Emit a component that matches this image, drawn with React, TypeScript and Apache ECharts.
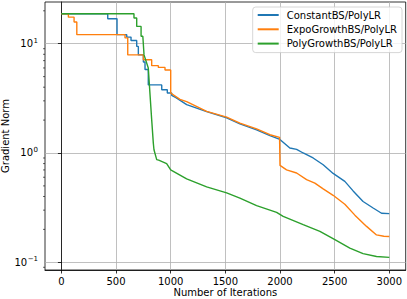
import React, { useEffect, useRef } from "react";
import * as echarts from "echarts";

const seriesNames = ["ConstantBS/PolyLR", "ExpoGrowthBS/PolyLR", "PolyGrowthBS/PolyLR"];
const seriesColors = ["#1f77b4", "#ff7f0e", "#2ca02c"];

const constantIter = [0, 424, 424, 509, 509, 598, 598, 637, 637, 689, 689, 704, 704, 750, 750, 765, 765, 795, 795, 918, 918, 969, 969, 1009, 1009, 1048, 1146, 1329, 1512, 1633, 1786, 1908, 1999, 2090, 2152, 2212, 2303, 2395, 2486, 2593, 2669, 2760, 2852, 2929, 3000];
const constantNorm = [18.8, 18.8, 16.9, 16.9, 12.1, 12.1, 11.5, 11.5, 10.7, 10.7, 9.45, 9.45, 7.9, 7.9, 6.8, 6.8, 5.8, 5.8, 4.2, 4.2, 3.79, 3.79, 3.54, 3.54, 3.37, 3.21, 2.77, 2.39, 2.1, 1.85, 1.63, 1.44, 1.33, 1.11, 1.08, 1.0, 0.9, 0.78, 0.65, 0.55, 0.45, 0.36, 0.314, 0.281, 0.279];

const expoIter = [0, 64, 64, 116, 116, 141, 141, 582, 582, 607, 607, 750, 750, 826, 826, 887, 887, 948, 948, 1000, 1000, 1085, 1146, 1329, 1512, 1633, 1786, 1908, 1996, 2000, 2060, 2152, 2243, 2319, 2395, 2486, 2593, 2685, 2792, 2883, 2950, 3000];
const expoNorm = [18.8, 18.8, 17.5, 17.5, 15.8, 15.8, 12.1, 12.1, 11.3, 11.3, 7.9, 7.9, 7.14, 7.14, 6.3, 6.3, 6.07, 6.07, 5.75, 5.75, 3.54, 3.1, 2.95, 2.4, 2.13, 1.88, 1.66, 1.47, 1.39, 0.77, 0.7, 0.656, 0.57, 0.53, 0.47, 0.41, 0.34, 0.27, 0.213, 0.178, 0.173, 0.172];

const polyIter = [0, 664, 664, 689, 689, 729, 729, 745, 756, 795, 805, 826, 841, 847, 872, 890, 963, 1000, 1024, 1146, 1329, 1512, 1633, 1786, 1969, 2029, 2212, 2365, 2502, 2639, 2760, 2883, 3000];
const polyNorm = [18.8, 18.8, 17.2, 17.2, 14.4, 14.4, 11.7, 11.7, 7.9, 6.0, 4.2, 2.02, 1.23, 1.07, 0.87, 0.86, 0.8, 0.7, 0.68, 0.58, 0.49, 0.431, 0.387, 0.33, 0.286, 0.263, 0.221, 0.192, 0.161, 0.135, 0.12, 0.113, 0.111];

const xTicks = [0, 500, 1000, 1500, 2000, 2500, 3000];
const yTicks = [0.1, 1, 10];
const yTickExponents = ["−1", "0", "1"];
const yMinorTicks = [0.09, 0.2, 0.3, 0.4, 0.5, 0.6, 0.7, 0.8, 0.9, 2, 3, 4, 5, 6, 7, 8, 9, 20];

const X_MIN = -150;
const X_MAX = 3150;
const Y_MIN = 0.085;
const Y_MAX = 24.08;

const FONT = "DejaVu Sans";

function pairs(xs: number[], ys: number[]) {
  return xs.map((x, i) => [x, ys[i]]);
}

export default function App() {
  const ref = useRef<HTMLDivElement>(null);
  useEffect(() => {
    if (!ref.current) return;
    const chart = echarts.init(ref.current, undefined, { renderer: "svg" });
    const lineData = [pairs(constantIter, constantNorm), pairs(expoIter, expoNorm), pairs(polyIter, polyNorm)];
    chart.setOption({
      animation: false,
      textStyle: { fontFamily: FONT },
      grid: {
        left: 45,
        right: 1.3,
        top: 2,
        bottom: 29,
        containLabel: false,
        outerBoundsMode: "none",
        show: true,
        borderColor: "#000",
        borderWidth: 0.8,
        backgroundColor: "transparent",
      },
      legend: {
        data: seriesNames,
        orient: "vertical",
        left: 252.7,
        top: 7,
        padding: [3, 5, 4, 4],
        itemGap: 4.3,
        itemWidth: 21,
        itemHeight: 10,
        itemStyle: { opacity: 0 },
        backgroundColor: "rgba(255,255,255,0.8)",
        borderColor: "#cccccc",
        borderWidth: 0.8,
        borderRadius: 3,
        textStyle: { fontFamily: FONT, fontSize: 10, color: "#000", lineHeight: 10, padding: [0, 0, 0, 3] },
      },
      xAxis: {
        type: "value",
        min: X_MIN,
        max: X_MAX,
        name: "Number of Iterations",
        nameLocation: "middle",
        nameGap: 17,
        nameMoveOverlap: false,
        nameTextStyle: { fontFamily: FONT, fontSize: 10, color: "#000" },
        axisLine: { show: true, lineStyle: { color: "#000", width: 0.8 } },
        axisTick: { show: true, length: 3.5, customValues: xTicks, lineStyle: { color: "#000", width: 0.8 } },
        axisLabel: {
          customValues: xTicks,
          fontFamily: FONT,
          fontSize: 10,
          color: "#000",
          margin: 6,
          formatter: (v: number) => String(v),
        },
        splitLine: { show: true, lineStyle: { color: "#b0b0b0", width: 0.8 } },
      },
      yAxis: {
        type: "log",
        logBase: 10,
        min: Y_MIN,
        max: Y_MAX,
        name: "Gradient Norm",
        nameLocation: "middle",
        nameGap: 34.5,
        nameMoveOverlap: false,
        nameTextStyle: { fontFamily: FONT, fontSize: 10, color: "#000" },
        axisLine: { show: true, lineStyle: { color: "#000", width: 0.8 } },
        axisTick: { show: true, length: 3.5, customValues: yTicks, lineStyle: { color: "#000", width: 0.8 } },
        axisLabel: {
          customValues: yTicks,
          fontFamily: FONT,
          fontSize: 10,
          color: "#000",
          margin: 7,
          formatter: (v: number) => {
            const i = yTicks.findIndex((t) => Math.abs(Math.log10(t) - Math.log10(v)) < 1e-6);
            return i >= 0 ? "{b|10}{s|" + yTickExponents[i] + "}" : "";
          },
          rich: {
            b: { fontFamily: FONT, fontSize: 10, color: "#000" },
            s: { fontFamily: FONT, fontSize: 7, color: "#000", padding: [0, 0, 6, 0.5] },
          },
        },
        splitLine: { show: true, lineStyle: { color: "#b0b0b0", width: 0.8 } },
      },
      series: [
        ...lineData.map((d, i) => ({
          name: seriesNames[i],
          type: "line",
          data: d,
          symbol: "none",
          showSymbol: false,
          color: seriesColors[i],
          lineStyle: { color: seriesColors[i], width: 1.4 },
          z: 3 + i,
        })),
        {
          type: "custom",
          silent: true,
          clip: false,
          data: yMinorTicks.map((v) => [X_MIN, v]),
          encode: { x: 0, y: 1 },
          renderItem: (_params: any, api: any) => {
            const p = api.coord([X_MIN, api.value(1)]);
            return {
              type: "line",
              shape: { x1: p[0] - 2, y1: p[1], x2: p[0], y2: p[1] },
              style: { stroke: "#000", lineWidth: 0.6 },
            };
          },
          z: 10,
        },
      ],
    });
    return () => chart.dispose();
  }, []);
  return <div ref={ref} style={{ width: 407, height: 299, position: "absolute", left: 0, top: 0 }} />;
}
